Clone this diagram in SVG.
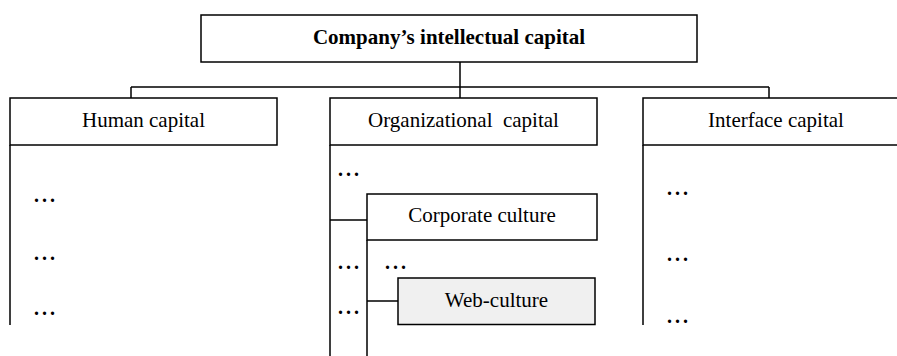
<svg xmlns="http://www.w3.org/2000/svg" width="897" height="356" viewBox="0 0 897 356">
<style>
.box{fill:#ffffff;stroke:#000;stroke-width:1.5}
.hl{fill:#f0f0f0;stroke:#000;stroke-width:1.5}
.ln{fill:none;stroke:#000;stroke-width:1.5}
.t{font-family:"Liberation Serif","Times New Roman",serif;font-size:21px;fill:#000;text-anchor:middle}
.b{font-weight:bold}
.d{font-family:"Liberation Serif","Times New Roman",serif;font-size:20px;font-weight:bold;letter-spacing:3px;fill:#000}
</style>
<rect width="897" height="356" fill="#fff"/>
<g id="connectors">
<path class="ln" d="M460,62V98M131,87H769M131,87V98M769,87V98"/>
<path class="ln" d="M10,145V325M330,145V356M643,145V325"/>
<path class="ln" d="M330,220H367M367,240V356M367,301H398"/>
</g>
<g id="root">
<rect class="box" x="201" y="15" width="496" height="47"/>
<text class="t b" x="449" y="44">Company’s intellectual capital</text>
</g>
<g id="human">
<rect class="box" x="10" y="98" width="267" height="47"/>
<text class="t" x="143.5" y="127">Human capital</text>
<text class="d" x="34" y="202">...</text>
<text class="d" x="34" y="259.5">...</text>
<text class="d" x="34" y="314.5">...</text>
</g>
<g id="organizational">
<rect class="box" x="330" y="98" width="267" height="47"/>
<text class="t" x="463.5" y="127" xml:space="preserve">Organizational  capital</text>
<text class="d" x="338" y="175.5">...</text>
<text class="d" x="338" y="268.5">...</text>
<text class="d" x="338" y="313.5">...</text>
<text class="d" x="385" y="268.5">...</text>
</g>
<g id="corporate">
<rect class="box" x="367" y="194" width="230" height="46"/>
<text class="t" x="482" y="222">Corporate culture</text>
</g>
<g id="web">
<rect class="hl" x="398" y="278" width="197" height="46.5"/>
<text class="t" x="496.5" y="307">Web-culture</text>
</g>
<g id="interface">
<rect class="box" x="643" y="98" width="266" height="47"/>
<text class="t" x="776" y="127">Interface capital</text>
<text class="d" x="667" y="194.5">...</text>
<text class="d" x="667" y="260.5">...</text>
<text class="d" x="667" y="322.5">...</text>
</g>
</svg>
